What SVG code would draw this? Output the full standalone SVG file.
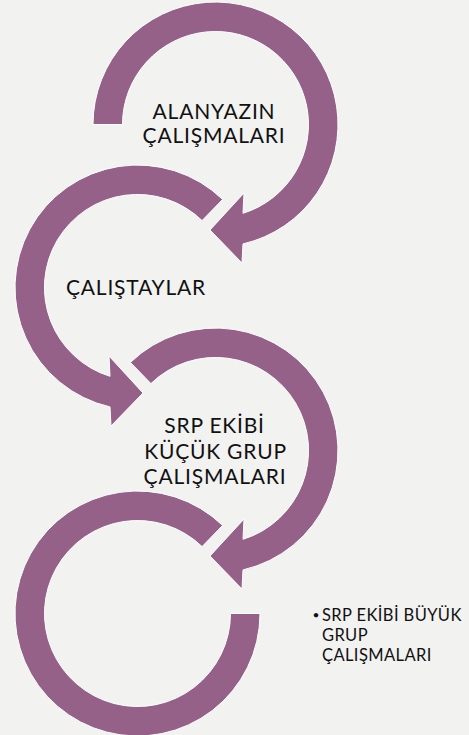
<svg xmlns="http://www.w3.org/2000/svg" width="469" height="735" viewBox="0 0 469 735">
<style>
.arc{fill:#956189;stroke:#ffffff;stroke-width:1;stroke-linejoin:miter}
.t{font-family:Lato,"Open Sans","Liberation Sans",sans-serif;font-size:21px;letter-spacing:0.8px;fill:#111111;text-anchor:middle}
.s{font-family:Lato,"Open Sans","Liberation Sans",sans-serif;font-size:16.5px;letter-spacing:0.4px;fill:#111111}
.b{font-family:Lato,"Open Sans","Liberation Sans",sans-serif;font-size:12px;fill:#111111}
</style>
<rect width="469" height="735" fill="#F2F2F1"/>
<g id="node1" transform="translate(215.5,124.5)">
<path class="arc" d="M -122.5 0 A 122.5 122.5 0 1 1 27.5 119.4 L 26.5 138.5 L -5.5 105.5 L 28.5 68.5 L 27.5 88.8 A 93 93 0 1 0 -93 0 Z"/>
<text class="t" x="-1.5" y="-5.5">ALANYAZIN</text>
<text class="t" x="-1.5" y="18.5">ÇALIŞMALARI</text>
</g>
<g id="node2" transform="translate(137.5,287.5)">
<path class="arc" d="M 85.1 -88.1 A 122.5 122.5 0 1 0 -27.5 119.4 L -26.5 138.5 L 5.5 105.5 L -28.5 68.5 L -27.5 88.8 A 93 93 0 1 1 64.6 -66.9 Z"/>
<text class="t" x="-1.5" y="7.5">ÇALIŞTAYLAR</text>
</g>
<g id="node3" transform="translate(215.5,450.5)">
<path class="arc" d="M -85.1 -88.1 A 122.5 122.5 0 1 1 27.5 119.4 L 26.5 138.5 L -5.5 105.5 L 28.5 68.5 L 27.5 88.8 A 93 93 0 1 0 -64.6 -66.9 Z"/>
<text class="t" x="-1" y="-17.5">SRP EKİBİ</text>
<text class="t" x="0" y="8.5">KÜÇÜK GRUP</text>
<text class="t" x="-0.5" y="33.5">ÇALIŞMALARI</text>
</g>
<g id="node4" transform="translate(137.5,613.5)">
<path class="arc" d="M 85.1 -88.1 A 122.5 122.5 0 1 0 122.5 0 L 93 0 A 93 93 0 1 1 64.6 -66.9 Z"/>
</g>
<g id="node5">
<text class="b" x="312.5" y="619">•</text>
<text class="s" x="322" y="620.5">SRP EKİBİ BÜYÜK</text>
<text class="s" x="322" y="640.5">GRUP</text>
<text class="s" x="322" y="660.5">ÇALIŞMALARI</text>
</g>
<g id="connectors"></g>
</svg>
